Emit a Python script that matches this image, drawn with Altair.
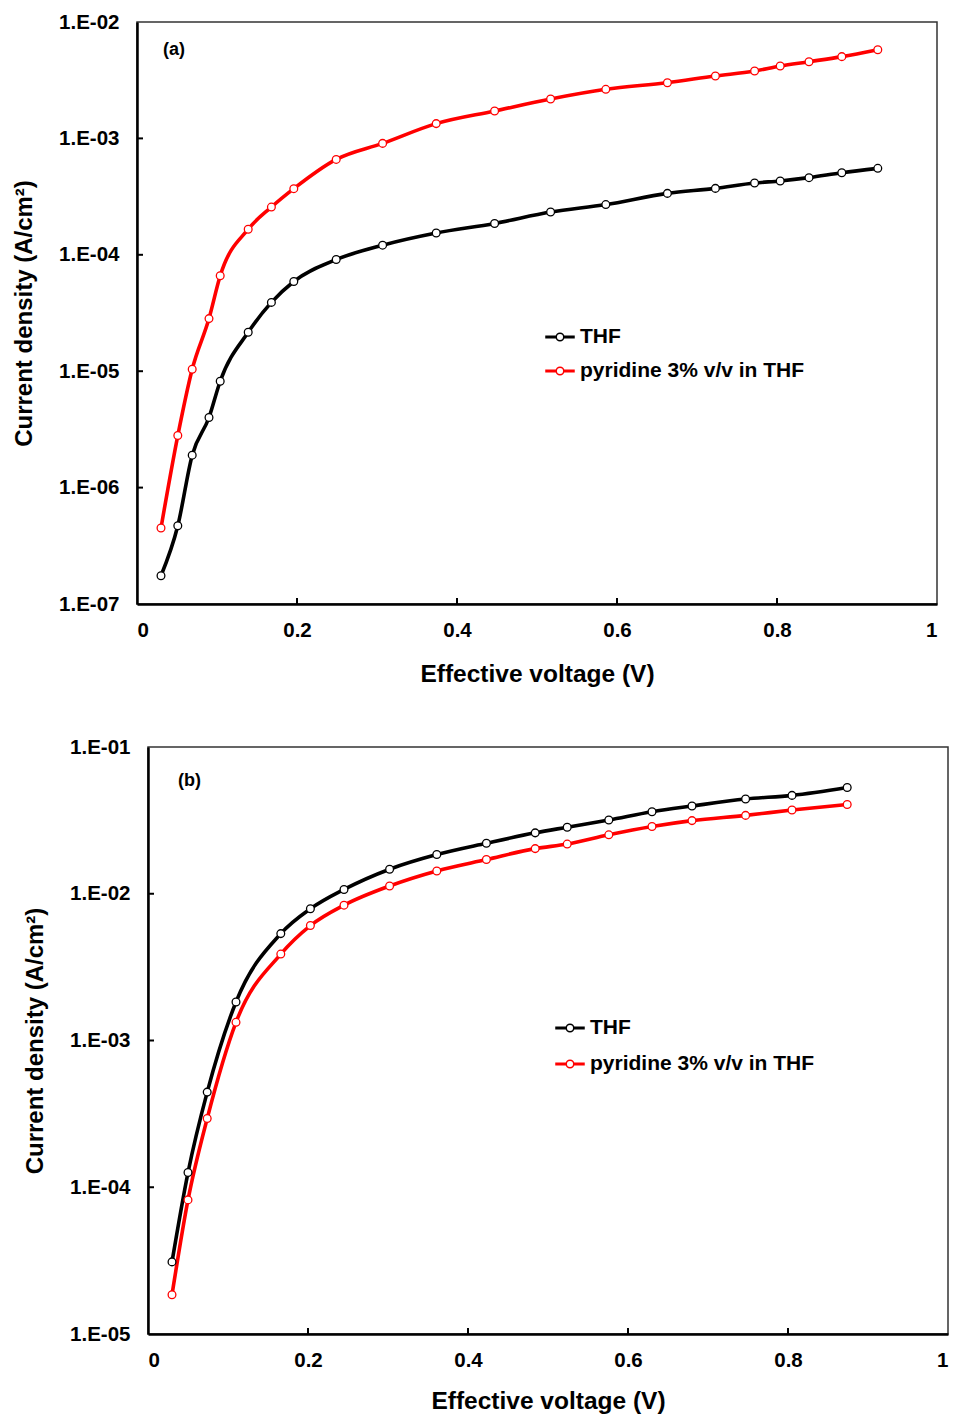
import altair as alt
import pandas as pd

# ---------------- data ----------------
series_names = ["THF", "pyridine 3% v/v in THF"]
series_colors = ["#000000", "#ff0000"]

a_voltage = [0.030, 0.051, 0.069, 0.090, 0.104, 0.139, 0.168, 0.196, 0.249, 0.307,
             0.374, 0.447, 0.517, 0.586, 0.663, 0.723, 0.772, 0.804, 0.840, 0.881, 0.926]
a_thf = [1.75e-7, 4.7e-7, 1.9e-6, 4.0e-6, 8.2e-6, 2.16e-5, 3.9e-5, 5.9e-5, 9.1e-5, 1.21e-4,
         1.54e-4, 1.86e-4, 2.33e-4, 2.70e-4, 3.37e-4, 3.72e-4, 4.14e-4, 4.31e-4, 4.60e-4, 5.07e-4, 5.53e-4]
a_pyr = [4.5e-7, 2.8e-6, 1.04e-5, 2.83e-5, 6.6e-5, 1.66e-4, 2.57e-4, 3.7e-4, 6.6e-4, 9.06e-4,
         1.34e-3, 1.72e-3, 2.18e-3, 2.64e-3, 3.01e-3, 3.44e-3, 3.79e-3, 4.19e-3, 4.56e-3, 5.04e-3, 5.78e-3]

b_voltage = [0.030, 0.050, 0.074, 0.110, 0.166, 0.203, 0.245, 0.302, 0.361, 0.423,
             0.484, 0.524, 0.576, 0.630, 0.680, 0.747, 0.805, 0.874]
b_thf = [3.1e-5, 1.26e-4, 4.45e-4, 1.83e-3, 5.35e-3, 7.9e-3, 1.07e-2, 1.47e-2, 1.85e-2, 2.21e-2,
         2.60e-2, 2.84e-2, 3.18e-2, 3.62e-2, 3.96e-2, 4.42e-2, 4.68e-2, 5.30e-2]
b_pyr = [1.85e-5, 8.2e-5, 2.94e-4, 1.33e-3, 3.88e-3, 6.07e-3, 8.36e-3, 1.13e-2, 1.43e-2, 1.71e-2,
         2.03e-2, 2.18e-2, 2.52e-2, 2.87e-2, 3.15e-2, 3.42e-2, 3.72e-2, 4.06e-2]

y_ticks_a = [1e-7, 1e-6, 1e-5, 1e-4, 1e-3, 1e-2]
y_ticks_b = [1e-5, 1e-4, 1e-3, 1e-2, 1e-1]
x_ticks = [0, 0.2, 0.4, 0.6, 0.8, 1.0]
panel_labels = ["(a)", "(b)"]
x_title = "Effective voltage (V)"
y_title = "Current density (A/cm\u00b2)"

FONT = "Liberation Sans, Arial, sans-serif"
LEGEND_SYMBOL = ("M-1,-0.054H-0.27V0.054H-1Z M0.27,-0.054H1V0.054H0.27Z "
                 "M0.27,0A0.27,0.27 0 1,1 -0.27,0A0.27,0.27 0 1,1 0.27,0Z")
LABEL_EXPR = ("'1.E-' + (round(-log(datum.value)/LN10) < 10 ? '0' : '') + "
              "round(-log(datum.value)/LN10)")


def long_df(v, s1, s2):
    rows = []
    for name, vals in zip(series_names, [s1, s2]):
        for i, (x, y) in enumerate(zip(v, vals)):
            rows.append({"V": x, "J": y, "series": name, "order": i})
    return pd.DataFrame(rows)


def panel(df, yticks, label, W, H, legx, legy, rowpad, labx, laby, xtpad):
    xs = alt.Scale(domain=[0, 1], nice=False, zero=False)
    ys = alt.Scale(type="log", domain=[yticks[0], yticks[-1]], nice=False)
    color = alt.Color(
        "series:N",
        scale=alt.Scale(domain=series_names, range=series_colors),
        legend=alt.Legend(
            title=None, orient="none", legendX=legx, legendY=legy,
            symbolType=LEGEND_SYMBOL, symbolSize=784, symbolStrokeWidth=1.5,
            symbolFillColor="white", labelFontSize=21, labelFont=FONT,
            labelFontWeight="bold", labelColor="black", labelOffset=5,
            labelLimit=500, rowPadding=rowpad, padding=0,
        ),
    )
    x = alt.X("V:Q", scale=xs,
              axis=alt.Axis(values=x_ticks, format="~g", title=x_title,
                            labelPadding=16, titlePadding=xtpad))
    y = alt.Y("J:Q", scale=ys,
              axis=alt.Axis(values=yticks, labelExpr=LABEL_EXPR, title=y_title,
                            labelPadding=18, titlePadding=22))
    base = alt.Chart(df)
    line = base.mark_line(interpolate="monotone", strokeWidth=3.6).encode(
        x=x, y=y, color=color, order="order:Q")
    pts = base.mark_point(filled=False, fill="white", size=60, strokeWidth=1.3,
                          opacity=1).encode(x="V:Q", y="J:Q", color=color)
    ytk = alt.Chart(pd.DataFrame({"t": yticks[1:-1]})).mark_rule(
        strokeWidth=2, color="black").encode(
        y=alt.Y("t:Q", scale=ys), x=alt.value(0), x2=alt.value(6))
    xtk = alt.Chart(pd.DataFrame({"t": x_ticks[1:-1]})).mark_rule(
        strokeWidth=2, color="black").encode(
        x=alt.X("t:Q", scale=xs), y=alt.value(H), y2=alt.value(H - 6))
    lab = alt.Chart(pd.DataFrame({"lab": [label]})).mark_text(
        align="left", baseline="middle", fontSize=18, fontWeight="bold",
        font=FONT, color="black").encode(
        x=alt.value(labx), y=alt.value(laby), text="lab:N")
    return alt.layer(line, pts, ytk, xtk, lab).properties(width=W, height=H)


def spacer(w):
    return alt.Chart(pd.DataFrame({"s": [0]})).mark_point(size=0, opacity=0).encode(
        x=alt.X("s:Q", axis=None), y=alt.Y("s:Q", axis=None)
    ).properties(width=w, height=10, view=alt.ViewBackground(stroke=None))


panel_a = panel(long_df(a_voltage, a_thf, a_pyr), y_ticks_a, panel_labels[0],
                800, 582, 408, 300, 9, 26, 28, 22)
panel_b = panel(long_df(b_voltage, b_thf, b_pyr), y_ticks_b, panel_labels[1],
                800, 587, 407, 266, 11, 30, 34, 19)

top_row = alt.hconcat(spacer(1), panel_a, spacing=0).resolve_scale(
    color="independent", x="independent", y="independent")
bottom_row = alt.hconcat(spacer(12), panel_b, spacing=0).resolve_scale(
    color="independent", x="independent", y="independent")

chart = alt.vconcat(top_row, bottom_row, spacing=49).resolve_scale(
    color="independent", x="independent", y="independent"
).resolve_legend(color="independent").properties(
    padding={"left": 2, "top": 3, "right": 0, "bottom": 0}
).configure_view(
    stroke="#333333", strokeWidth=1.5
).configure_axis(
    grid=False, ticks=False, domainColor="black", domainWidth=2.5,
    labelFont=FONT, labelFontSize=20.5, labelFontWeight="bold", labelColor="black",
    titleFont=FONT, titleFontSize=24.5, titleFontWeight="bold", titleColor="black",
).configure_axisY(titleFontSize=24)

chart.save("out.html", embed_options={"renderer": "svg", "actions": False})
